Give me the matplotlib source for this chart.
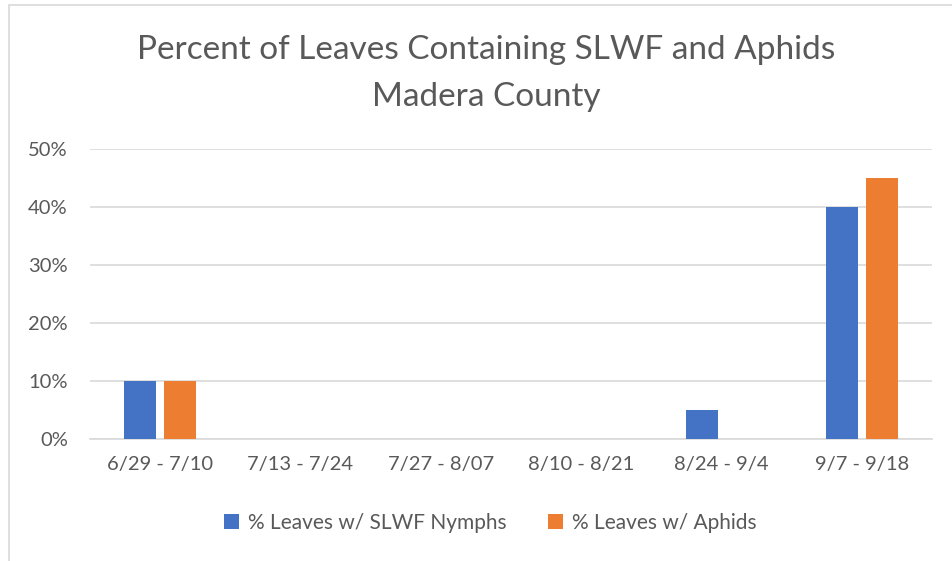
import matplotlib.pyplot as plt
import numpy as np
from matplotlib.patches import Rectangle

categories = ["6/29 - 7/10", "7/13 - 7/24", "7/27 - 8/07", "8/10 - 8/21", "8/24 - 9/4", "9/7 - 9/18"]
slwf = [10, 0, 0, 0, 5, 40]
aphids = [10, 0, 0, 0, 0, 45]
series_names = ["% Leaves w/ SLWF Nymphs", "% Leaves w/ Aphids"]
yticks = [0, 10, 20, 30, 40, 50]

plt.rcParams['font.family'] = ['Lato', 'DejaVu Sans']
txt = '#595959'

fig = plt.figure(figsize=(9.52, 5.61), dpi=100)
# chart border (only left/top visible in the original crop)
fig.patches.append(Rectangle((9 / 952, -0.1), 1.2, 1 - 5 / 561 + 0.1, transform=fig.transFigure,
                             fill=False, edgecolor='#D9D9D9', linewidth=1.2))

ax = fig.add_axes([90 / 952, 1 - 439 / 561, 842 / 952, 290 / 561])
x = np.arange(len(categories))
w = 0.228
ax.bar(x - 0.142, slwf, w, color='#4472C4', label=series_names[0], zorder=3)
ax.bar(x + 0.142, aphids, w, color='#ED7D31', label=series_names[1], zorder=3)

ax.set_xlim(-0.5, len(categories) - 0.5)
ax.set_ylim(0, 50)
ax.set_yticks(yticks)
ax.set_yticklabels([f"{v}%" for v in yticks])
ax.set_xticks(x)
ax.set_xticklabels(categories)
ax.yaxis.grid(True, color='#D9D9D9', linewidth=1.2, zorder=0)
for s in ['top', 'right', 'left']:
    ax.spines[s].set_visible(False)
ax.spines['bottom'].set_color('#D9D9D9')
ax.spines['bottom'].set_linewidth(1.2)
ax.tick_params(axis='both', length=0, colors=txt, labelsize=14.5)
ax.tick_params(axis='y', pad=16)
ax.tick_params(axis='x', pad=12)

fig.text(486 / 952, 1 - 50 / 561, "Percent of Leaves Containing SLWF and Aphids", ha='center', va='center',
         fontsize=24, color=txt)
fig.text(486 / 952, 1 - 97 / 561, "Madera County", ha='center', va='center', fontsize=24, color=txt)

fig.legend(loc='center', bbox_to_anchor=(490 / 952, 1 - 523 / 561), ncol=2, frameon=False,
           fontsize=15, labelcolor=txt, handlelength=0.75, handleheight=0.75, handletextpad=0.4,
           columnspacing=2.0)

fig.savefig("out.png", dpi=100)
